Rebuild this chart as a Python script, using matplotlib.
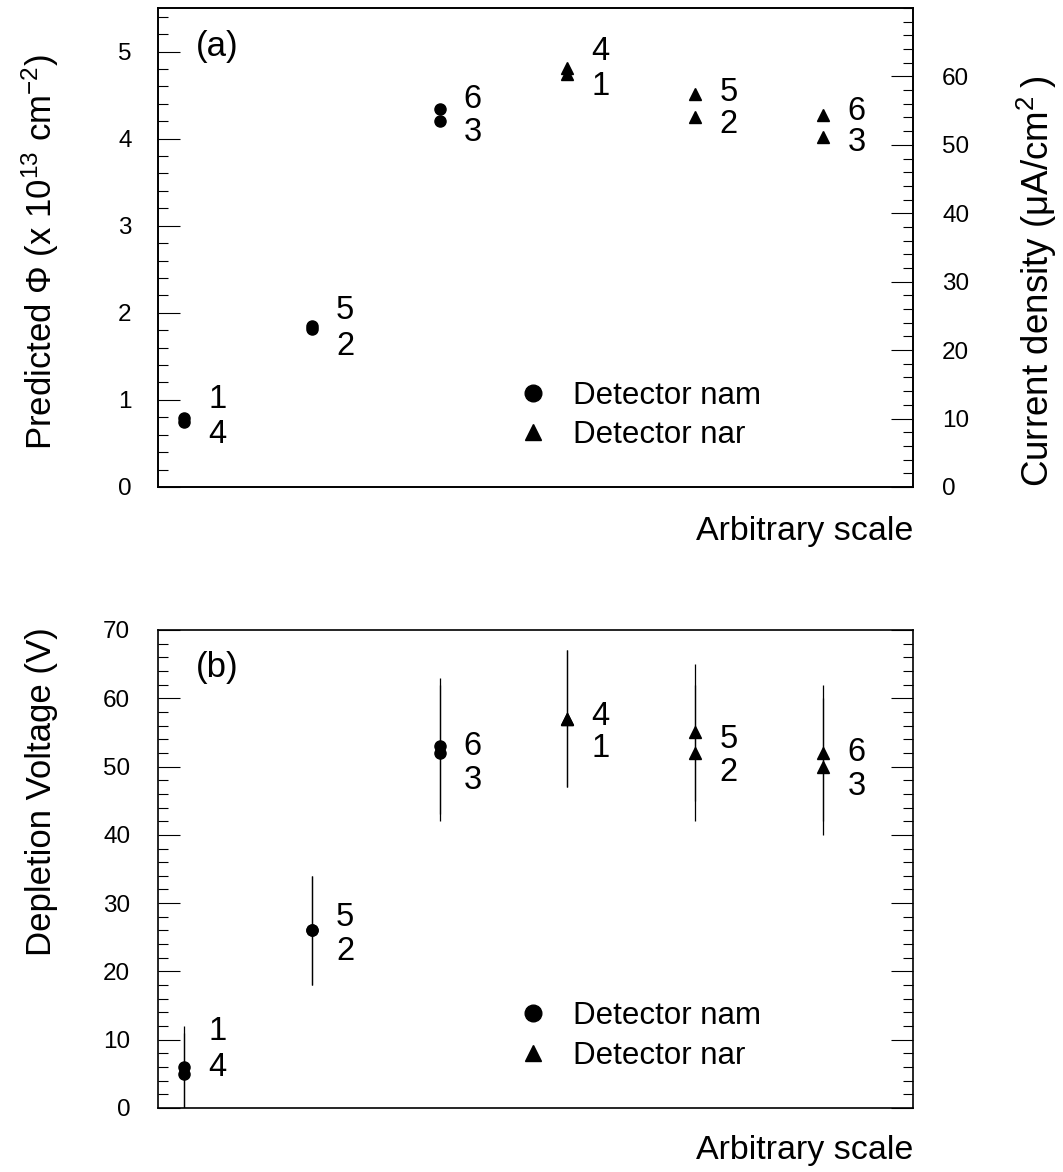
import matplotlib
matplotlib.use('Agg')
import matplotlib.pyplot as plt
from matplotlib.lines import Line2D
from matplotlib.ticker import MultipleLocator

plt.rcParams['font.family'] = ['Liberation Sans', 'DejaVu Sans']
plt.rcParams['mathtext.fontset'] = 'custom'
plt.rcParams['mathtext.rm'] = 'Liberation Sans'
plt.rcParams['mathtext.it'] = 'Liberation Sans:italic'
plt.rcParams['mathtext.bf'] = 'Liberation Sans:bold'
plt.rcParams['ytick.labelsize'] = 17.5

# ---------------- data ----------------
positions = [1, 2, 3, 4, 5, 6]
nam_pos = [1, 2, 3]
nar_pos = [4, 5, 6]

# (a) predicted fluence (x 1e13 cm^-2) for "nam" detectors, current density (uA/cm^2) for "nar"
fluence_nam_upper = [0.79, 1.845, 4.345]
fluence_nam_lower = [0.75, 1.81, 4.20]
current_nar_upper = [61.2, 57.4, 54.4]
current_nar_lower = [60.4, 54.0, 51.1]

# (b) depletion voltage (V)
vdep_nam_upper = [6, 26, 53]
vdep_nam_lower = [5, 26, 52]
vdep_nam_err = [6, 8, 10]
vdep_nar_upper = [57, 55, 52]
vdep_nar_lower = [57, 52, 50]
vdep_nar_err = [10, 10, 10]

# point identifiers (annotation text) and annotation heights
upper_ids = ['1', '5', '6', '4', '5', '6']
lower_ids = ['4', '2', '3', '1', '2', '3']
top_upper_label_y = [1.0, 2.03, 4.45, 5.0, 4.53, 4.31]
top_lower_label_y = [0.6, 1.61, 4.07, 4.6, 4.16, 3.95]
bot_upper_label_y = [11.2, 27.9, 52.9, 57.3, 54.0, 52.1]
bot_lower_label_y = [6.0, 22.9, 47.9, 52.6, 49.2, 47.1]

legend_labels = ['Detector nam', 'Detector nar']

# ---------------- style ----------------
TITLE_FS = 24.5
NUM_FS = 23.5
LEG_FS = 22.5
TICK_FS = 17.5
MS = 8
LABEL_DX = 0.19

fig = plt.figure(figsize=(10.63, 11.72), dpi=100)
ax1 = fig.add_axes([0.1486, 0.5845, 0.7103, 0.4087])
ax2 = ax1.twinx()
ax3 = fig.add_axes([0.1486, 0.05461, 0.7103, 0.40785])


def style_axis(ax):
    for sp in ax.spines.values():
        sp.set_linewidth(1.2)
    ax.set_xlim(0.797, 6.704)
    ax.set_xticks([])


style_axis(ax1)
style_axis(ax3)
for sp in ax2.spines.values():
    sp.set_linewidth(1.2)

# ---- panel (a) ----
ax1.set_ylim(0, 5.5)
ax1.yaxis.set_major_locator(MultipleLocator(1))
ax1.yaxis.set_minor_locator(MultipleLocator(0.2))
ax1.tick_params(axis='y', which='both', direction='in', left=True, right=False,
                labelsize=TICK_FS, pad=19, width=0.8)
ax1.tick_params(axis='y', which='major', length=15.8)
ax1.tick_params(axis='y', which='minor', length=7.5)

ax2.set_ylim(0, 70)
ax2.yaxis.set_minor_locator(MultipleLocator(2))
ax2.set_yticks([0, 10, 20, 30, 40, 50, 60])
ax2.tick_params(axis='y', which='both', direction='in', left=False, right=True,
                labelsize=TICK_FS, pad=21, width=0.8)
ax2.tick_params(axis='y', which='major', length=15.8)
ax2.tick_params(axis='y', which='minor', length=7.5)
ax2.set_xticks([])

ax1.plot(nam_pos, fluence_nam_upper, 'o', ms=MS, color='k', ls='none')
ax1.plot(nam_pos, fluence_nam_lower, 'o', ms=MS, color='k', ls='none')
ax2.plot(nar_pos, current_nar_upper, '^', ms=MS, color='k', ls='none')
ax2.plot(nar_pos, current_nar_lower, '^', ms=MS, color='k', ls='none')

for x, t, y in zip(positions, upper_ids, top_upper_label_y):
    ax1.text(x + LABEL_DX, y, t, fontsize=NUM_FS, ha='left', va='center')
for x, t, y in zip(positions, lower_ids, top_lower_label_y):
    ax1.text(x + LABEL_DX, y, t, fontsize=NUM_FS, ha='left', va='center')

ax1.text(0.05, 0.919, '(a)', transform=ax1.transAxes, fontsize=25, ha='left', va='center')

ax1.set_ylabel('Predicted \u03a6 (x 10$^{13}$ cm$^{-2}$)', fontsize=25)
ax1.yaxis.set_label_coords(-0.156, 0.49)
ax1.yaxis.label.set_va('center')
ax1.yaxis.label.set_ha('center')

ax2.set_ylabel('Current density (\u03bcA/cm$^{2}$\u2009)', fontsize=26.5, rotation=90)
ax2.yaxis.set_label_coords(1.164, 0.0)
ax2.yaxis.label.set_va('center')
ax2.yaxis.label.set_ha('left')
ax2.yaxis.label.set_rotation_mode('anchor')

ax1.set_xlabel('Arbitrary scale', fontsize=TITLE_FS)
ax1.xaxis.set_label_coords(1.0, -0.094)
ax1.xaxis.label.set_ha('right')
ax1.xaxis.label.set_va('center')

handles = [Line2D([], [], marker='o', ls='none', color='k', ms=12),
           Line2D([], [], marker='^', ls='none', color='k', ms=12)]
leg_kw = dict(loc='center left', frameon=False, fontsize=LEG_FS, handlelength=1.0,
              handletextpad=0.78, borderpad=0, borderaxespad=0, labelspacing=0.3)
ax2.legend(handles, legend_labels, bbox_to_anchor=(0.4755, 0.149), **leg_kw)

# ---- panel (b) ----
ax3.set_ylim(0, 70)
ax3.yaxis.set_major_locator(MultipleLocator(10))
ax3.yaxis.set_minor_locator(MultipleLocator(2))
ax3.tick_params(axis='y', which='both', direction='in', left=True, right=True,
                labelright=False, labelsize=TICK_FS, pad=20, width=0.8)
ax3.tick_params(axis='y', which='major', length=15.8)
ax3.tick_params(axis='y', which='minor', length=7.5)

eb_kw = dict(color='k', ms=MS, elinewidth=0.9, capsize=0, ls='none')
ax3.errorbar(nam_pos, vdep_nam_upper, yerr=vdep_nam_err, fmt='o', **eb_kw)
ax3.errorbar(nam_pos, vdep_nam_lower, yerr=vdep_nam_err, fmt='o', **eb_kw)
ax3.errorbar(nar_pos, vdep_nar_upper, yerr=vdep_nar_err, fmt='^', **eb_kw)
ax3.errorbar(nar_pos, vdep_nar_lower, yerr=vdep_nar_err, fmt='^', **eb_kw)

for x, t, y in zip(positions, upper_ids, bot_upper_label_y):
    ax3.text(x + LABEL_DX, y, t, fontsize=NUM_FS, ha='left', va='center')
for x, t, y in zip(positions, lower_ids, bot_lower_label_y):
    ax3.text(x + LABEL_DX, y, t, fontsize=NUM_FS, ha='left', va='center')

ax3.text(0.05, 0.9205, '(b)', transform=ax3.transAxes, fontsize=25, ha='left', va='center')

ax3.set_ylabel('Depletion Voltage (V)', fontsize=25)
ax3.yaxis.set_label_coords(-0.1536, 1.005)
ax3.yaxis.label.set_va('center')
ax3.yaxis.label.set_ha('right')

ax3.set_xlabel('Arbitrary scale', fontsize=TITLE_FS)
ax3.xaxis.set_label_coords(1.0, -0.088)
ax3.xaxis.label.set_ha('right')
ax3.xaxis.label.set_va('center')

ax3.legend(handles, legend_labels, bbox_to_anchor=(0.4755, 0.151), **leg_kw)

fig.savefig('out.png', dpi=100)
